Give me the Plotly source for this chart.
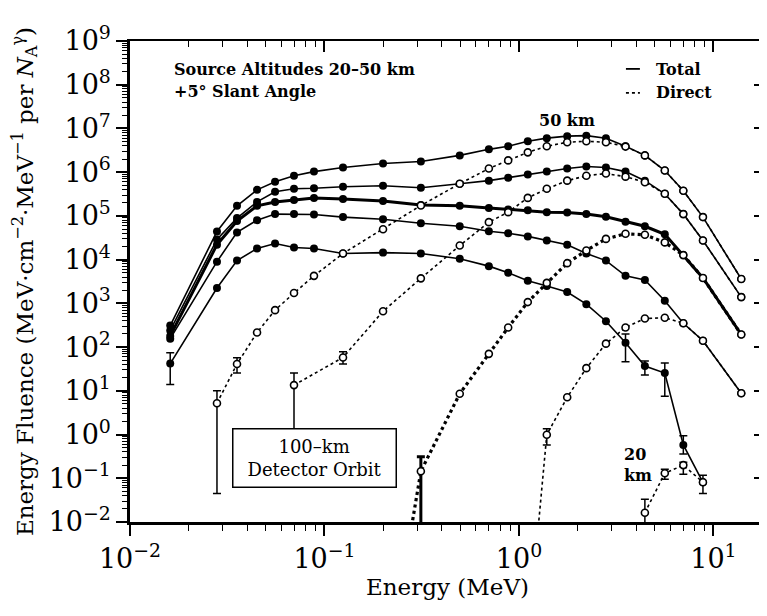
import plotly.graph_objects as go

# ---------------- data ----------------
E = [0.0161, 0.028, 0.0355, 0.045, 0.0557, 0.0697, 0.0883, 0.1245, 0.2, 0.313,
     0.496, 0.70, 0.88, 1.11, 1.39, 1.77, 2.22, 2.80, 3.53, 4.44, 5.62, 7.00, 8.83, 13.9]

T1 = [310, 4.4e4, 1.7e5, 3.95e5, 6.05e5, 8.3e5, 1.03e6, 1.28e6, 1.58e6, 1.76e6, 2.42e6, 3.33e6,
      3.92e6, 5.1e6, 6.0e6, 6.67e6, 6.85e6, 6.0e6, 3.92e6, 2.42e6, 1.09e6, 3.75e5, 9.4e4, 3.6e3]
D1 = [None, 5.2, 41, 215, 700, 1.72e3, 4.26e3, 1.38e4, 4.95e4, 1.73e5, 5.45e5, 1.21e6,
      1.86e6, 2.84e6, 3.92e6, 4.84e6, 5.1e6, 4.84e6, 3.85e6, 2.42e6, 1.09e6, 3.75e5, 9.4e4, 3.6e3]

T2 = [240, 2.9e4, 8.9e4, 2.09e5, 3.56e5, 4.17e5, 4.29e5, 4.64e5, 4.9e5, 4.4e5, 5.45e5, 6.4e5,
      7.5e5, 8.8e5, 1.03e6, 1.21e6, 1.35e6, 1.28e6, 1.03e6, 6.4e5, 3.2e5, 1.1e5, 2.75e4, 1.39e3]
D2 = [None, None, None, None, None, 13.5, None, 58, 660, 3.73e3, 2.1e4, 7.2e4,
      1.22e5, 2.58e5, 4.17e5, 6.4e5, 8.3e5, 9.3e5, 7.9e5, 5.9e5, 3.2e5, 1.1e5, 2.75e4, 1.39e3]

T3 = [180, 2.2e4, 7.6e4, 1.7e5, 2.09e5, 2.32e5, 2.58e5, 2.45e5, 2.2e5, 1.78e5, 1.7e5, 1.52e5,
      1.41e5, 1.34e5, 1.22e5, 1.2e5, 1.1e5, 9.6e4, 7.4e4, 5.8e4, 3.8e4, 1.27e4, 3.8e3, 194]
D3 = [None, None, None, None, None, None, None, None, 1e-6, 0.145, 8.6, 70,
      280, 1.07e3, 2.94e3, 8.3e3, 1.62e4, 2.98e4, 3.9e4, 3.7e4, 2.48e4, 1.27e4, 3.8e3, 194]

T4 = [156, 9.0e3, 4.2e4, 8.0e4, 1.1e5, 1.1e5, 1.08e5, 9.4e4, 8.4e4, 6.8e4, 5.8e4, 4.45e4,
      4.0e4, 3.4e4, 2.75e4, 2.2e4, 1.38e4, 9.5e3, 4.26e3, 3.44e3, 1.15e3, 350, 140, 8.8]
D4 = [None, None, None, None, None, None, None, None, None, None, None, None,
      None, 2e-5, 0.99, 7.1, 33, 120, 280, 450, 470, 350, 140, 8.8]

T5 = [42, 2.25e3, 9.5e3, 1.8e4, 2.34e4, 1.9e4, 1.8e4, 1.38e4, 1.45e4, 1.38e4, 1.05e4, 7.1e3,
      5.0e3, 3.27e3, 2.5e3, 1.82e3, 960, 390, 126, 37, 25.5, 0.58, 0.081, None]
D5 = [None, None, None, None, None, None, None, None, None, None, None, None,
      None, None, None, None, None, None, None, 0.0163, 0.13, 0.2, 0.081, None]

# error bars: index into E, upper and lower bounds
T5_err_idx = [0, 18, 19, 20, 21, 22]
T5_err_hi = [74, 200, 48, 43.5, 0.94, 0.117]
T5_err_lo = [14, 46, 23, 7.5, 0.36, 0.045]
D1_err_idx = [1, 2]
D1_err_hi = [10, 57]
D1_err_lo = [0.045, 25.5]
D2_err_idx = [5, 7]
D2_err_hi = [25.5, 78]
D2_err_lo = [0.3, 41]
D3_err_idx = [9]
D3_err_hi = [0.31]
D3_err_lo = [1e-4]
D4_err_idx = [14]
D4_err_hi = [1.36]
D4_err_lo = [0.58]
D5_err_idx = [19, 20, 21]
D5_err_hi = [0.033, 0.16, 0.234]
D5_err_lo = [1e-4, 0.095, 0.124]

y_tickvals = [1e-2, 1e-1, 1e0, 1e1, 1e2, 1e3, 1e4, 1e5, 1e6, 1e7, 1e8, 1e9]
y_ticktext = ["10<sup>−2</sup>", "10<sup>−1</sup>", "10<sup>0</sup>", "10<sup>1</sup>",
              "10<sup>2</sup>", "10<sup>3</sup>", "10<sup>4</sup>", "10<sup>5</sup>",
              "10<sup>6</sup>", "10<sup>7</sup>", "10<sup>8</sup>", "10<sup>9</sup>"]
x_tickvals = [1e-2, 1e-1, 1e0, 1e1]
x_ticktext = ["10<sup>−2</sup>", "10<sup>−1</sup>", "10<sup>0</sup>", "10<sup>1</sup>"]

# ---------------- figure ----------------
FONT = "DejaVu Serif"
fig = go.Figure()


def err_trace(series, idx, hi, lo, thick=1.5):
    xs = [E[i] for i in idx]
    ys = [series[i] for i in idx]
    fig.add_trace(go.Scatter(
        x=xs, y=ys, mode="markers", marker=dict(size=1, color="rgba(0,0,0,0)"),
        error_y=dict(type="data", symmetric=False,
                     array=[h - y for h, y in zip(hi, ys)],
                     arrayminus=[y - l for l, y in zip(lo, ys)],
                     color="black", thickness=thick, width=4),
        showlegend=False, hoverinfo="skip"))


err_trace(T5, T5_err_idx, T5_err_hi, T5_err_lo)
err_trace(D1, D1_err_idx, D1_err_hi, D1_err_lo)
err_trace(D2, D2_err_idx, D2_err_hi, D2_err_lo)
err_trace(D3, D3_err_idx, D3_err_hi, D3_err_lo, thick=3)
err_trace(D4, D4_err_idx, D4_err_hi, D4_err_lo)
err_trace(D5, D5_err_idx, D5_err_hi, D5_err_lo)

filled = dict(symbol="circle", size=8, color="black")
opened = dict(symbol="circle", size=7, color="white", line=dict(color="black", width=1.6))

for s, w in [(T1, 1.6), (T2, 1.6), (T3, 3.0), (T4, 1.6), (T5, 1.6)]:
    fig.add_trace(go.Scatter(x=E, y=s, mode="lines+markers",
                             line=dict(color="black", width=w), marker=filled,
                             showlegend=False, hoverinfo="skip"))

for s, w in [(D1, 1.6), (D2, 1.6), (D3, 3.2), (D4, 1.6), (D5, 1.6)]:
    fig.add_trace(go.Scatter(x=E, y=s, mode="lines+markers", connectgaps=True,
                             line=dict(color="black", width=w, dash="dot"), marker=opened,
                             showlegend=False, hoverinfo="skip"))

# dummy trace for the mirrored (top / right) axes
fig.add_trace(go.Scatter(x=[None], y=[None], xaxis="x2", yaxis="y2",
                         showlegend=False, hoverinfo="skip"))

XR = [-2, 1.265]
YR = [-2, 9]
minor_x = dict(ticks="outside", ticklen=6, tickwidth=1.2, tickcolor="black", dtick="D1")
minor_y = dict(ticks="outside", ticklen=5, tickwidth=1, tickcolor="black", dtick="D1")

# the page adds an 8 px body margin, so the figure is 8 px smaller than the window
fig.update_layout(
    width=759, height=608,
    margin=dict(l=122, r=2, t=33, b=94, autoexpand=False),
    paper_bgcolor="white", plot_bgcolor="white",
    font=dict(family=FONT, color="black"),
    xaxis=dict(type="log", range=XR, tickmode="array", tickvals=x_tickvals, ticktext=x_ticktext,
               ticks="outside", ticklen=11, tickwidth=1.5, tickcolor="black",
               showline=True, linecolor="black", linewidth=2.5, showgrid=False, zeroline=False,
               minor=minor_x, tickfont=dict(size=27, family=FONT),
               title=dict(text="Energy (MeV)", font=dict(size=23, family=FONT), standoff=6)),
    yaxis=dict(type="log", range=YR, tickmode="array", tickvals=y_tickvals, ticktext=y_ticktext,
               ticks="outside", ticklen=11, tickwidth=1.5, tickcolor="black",
               showline=True, linecolor="black", linewidth=2.5, showgrid=False, zeroline=False,
               minor=minor_y, tickfont=dict(size=27, family=FONT),
               title=dict(text="Energy Fluence (MeV·cm<sup>−2</sup>·MeV<sup>−1</sup> per "
                               "<i>N</i><sub>A</sub><sup>γ</sup>)",
                          font=dict(size=23, family=FONT), standoff=18)),
    xaxis2=dict(type="log", range=XR, overlaying="x", side="top", tickmode="array",
                tickvals=x_tickvals, showticklabels=False,
                ticks="inside", ticklen=11, tickwidth=1.5, tickcolor="black",
                showline=True, linecolor="black", linewidth=2, showgrid=False, zeroline=False,
                minor=dict(ticks="inside", ticklen=6, tickwidth=1.2, tickcolor="black", dtick="D1")),
    yaxis2=dict(type="log", range=YR, overlaying="y", side="right", tickmode="array",
                tickvals=y_tickvals, showticklabels=False,
                ticks="inside", ticklen=11, tickwidth=1.5, tickcolor="black",
                showline=True, linecolor="black", linewidth=2, showgrid=False, zeroline=False,
                minor=dict(ticks="inside", ticklen=5, tickwidth=1, tickcolor="black", dtick="D1")),
)

ann_font = dict(family=FONT, size=16, color="black", weight="bold")
fig.add_annotation(xref="paper", yref="paper", x=0.066, y=0.940, xanchor="left", yanchor="middle",
                   text="Source Altitudes 20–50 km", showarrow=False, font=ann_font)
fig.add_annotation(xref="paper", yref="paper", x=0.066, y=0.894, xanchor="left", yanchor="middle",
                   text="+5° Slant Angle", showarrow=False, font=ann_font)
fig.add_annotation(xref="paper", yref="paper", x=0.825, y=0.940, xanchor="left", yanchor="middle",
                   text="Total", showarrow=False, font=ann_font)
fig.add_annotation(xref="paper", yref="paper", x=0.825, y=0.892, xanchor="left", yanchor="middle",
                   text="Direct", showarrow=False, font=ann_font)
fig.add_shape(type="line", xref="paper", yref="paper", x0=0.781, x1=0.803, y0=0.942, y1=0.942,
              line=dict(color="black", width=1.8))
fig.add_shape(type="line", xref="paper", yref="paper", x0=0.781, x1=0.803, y0=0.892, y1=0.892,
              line=dict(color="black", width=1.8, dash="dot"))
fig.add_annotation(xref="paper", yref="paper", x=0.688, y=0.834, xanchor="center", yanchor="middle",
                   text="50 km", showarrow=False, font=ann_font)
fig.add_annotation(xref="paper", yref="paper", x=0.775, y=0.119, xanchor="left", yanchor="middle",
                   text="20<br>km", align="left", showarrow=False, font=ann_font)
fig.add_annotation(xref="paper", yref="paper", x=0.291, y=0.134, xanchor="center", yanchor="middle",
                   text="100–km<br>Detector Orbit", showarrow=False,
                   font=dict(family=FONT, size=18, color="black"),
                   bordercolor="black", borderwidth=1.5, borderpad=1, bgcolor="white",
                   width=160, height=55)

fig.write_html("out.html")
